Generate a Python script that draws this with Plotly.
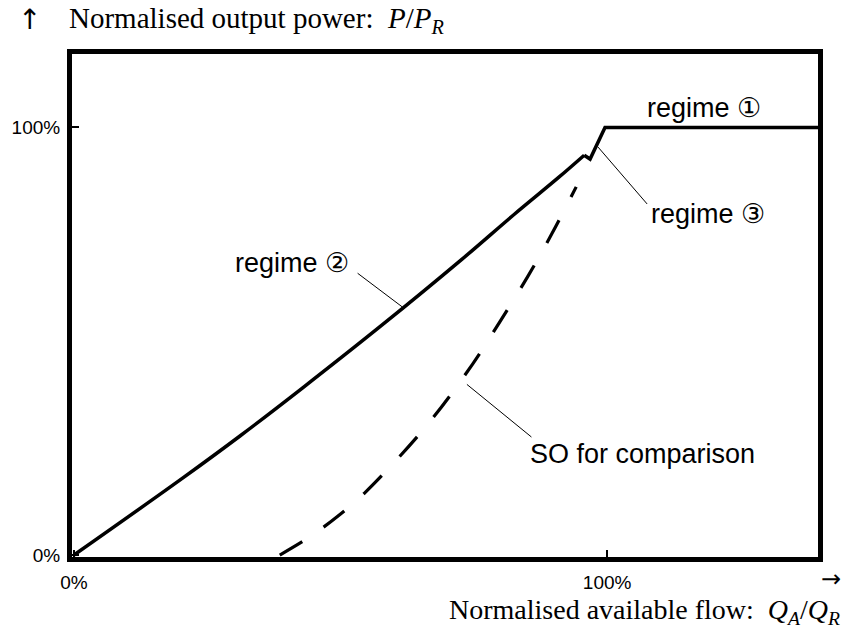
import plotly.graph_objects as go

# ---- data ----
# regime 2 (rising part of the solid curve)
flow_r2 = [0.0, 0.205, 0.312, 0.429, 0.578, 0.728, 0.826, 0.909, 0.957]
power_r2 = [0.0, 0.181, 0.279, 0.391, 0.538, 0.692, 0.797, 0.883, 0.935]
# regime 3 (small notch) and regime 1 (rated power plateau)
flow_r31 = [0.957, 0.968, 0.996, 1.40]
power_r31 = [0.935, 0.926, 1.0, 1.0]

# SO for comparison (dashed)
flow_so = [0.386, 0.444, 0.50, 0.545, 0.659, 0.748, 0.799, 0.851, 0.897, 0.942]
power_so = [0.0, 0.044, 0.096, 0.145, 0.299, 0.447, 0.546, 0.651, 0.753, 0.861]

tick_vals = [0, 1]
x_tick_text = ["0%", "100%"]
y_tick_text = ["0%", "100%"]

labels = ["regime ①", "regime ②", "regime ③", "SO for comparison"]
label_x = [1.181, 0.409, 1.190, 1.067]
label_y = [1.046, 0.682, 0.798, 0.237]

# leader lines: (x0, y0, x1, y1) for regime ②, regime ③, SO
leaders = [
    (0.532, 0.659, 0.616, 0.580),
    (0.983, 0.954, 1.075, 0.821),
    (0.737, 0.399, 0.858, 0.276),
]

y_title = "Normalised output power:&nbsp;&nbsp;<i>P</i>/<i>P</i><sub><i>R</i></sub>"
x_title = "Normalised available flow:&nbsp;&nbsp;<i>Q</i><sub><i>A</i></sub>/<i>Q</i><sub><i>R</i></sub>"

SANS = "Liberation Sans, Arial, DejaVu Sans"
SERIF = "Liberation Serif, Times New Roman, serif"

fig = go.Figure()
fig.add_trace(go.Scatter(x=flow_r2, y=power_r2, mode="lines",
                         line=dict(color="black", width=3.5, shape="spline", smoothing=1.0),
                         showlegend=False))
fig.add_trace(go.Scatter(x=flow_r31, y=power_r31, mode="lines",
                         line=dict(color="black", width=3.5),
                         showlegend=False))
fig.add_trace(go.Scatter(x=flow_so, y=power_so, mode="lines",
                         line=dict(color="black", width=3.2, dash="26px,26px",
                                   shape="spline", smoothing=1.0),
                         showlegend=False))

for t, x, y in zip(labels, label_x, label_y):
    fig.add_annotation(x=x, y=y, xref="x", yref="y", text=t, showarrow=False,
                       font=dict(family=SANS, size=27, color="black"))

for (x0, y0, x1, y1) in leaders:
    fig.add_shape(type="line", x0=x0, y0=y0, x1=x1, y1=y1, xref="x", yref="y",
                  line=dict(color="black", width=1))

# axis titles and arrows
fig.add_annotation(x=-0.0576, y=1.068, xref="paper", yref="paper", text="↑", showarrow=False,
                   xanchor="center", yanchor="middle",
                   font=dict(family="DejaVu Sans", size=28, color="black"))
fig.add_annotation(x=-0.0067, y=1.0676, xref="paper", yref="paper", text=y_title, showarrow=False,
                   xanchor="left", yanchor="middle", font=dict(family=SERIF, size=29, color="black"))
fig.add_annotation(x=1.032, y=-0.109, xref="paper", yref="paper", text=x_title, showarrow=False,
                   xanchor="right", yanchor="middle", font=dict(family=SERIF, size=28, color="black"))
fig.add_annotation(x=1.018, y=-0.044, xref="paper", yref="paper", text="→", showarrow=False,
                   xanchor="center", yanchor="middle",
                   font=dict(family="DejaVu Sans", size=24, color="black"))

fig.update_xaxes(range=[-0.0037, 1.3955], tickvals=tick_vals, ticktext=x_tick_text,
                 showgrid=False, zeroline=False, showline=True, linecolor="black", linewidth=5,
                 mirror=True, ticks="inside", ticklen=7, tickwidth=1.5, tickcolor="black",
                 ticklabelstandoff=4, automargin=False,
                 tickfont=dict(family=SANS, size=19, color="black"))
fig.update_yaxes(range=[-0.0046, 1.1717], tickvals=tick_vals, ticktext=y_tick_text,
                 showgrid=False, zeroline=False, showline=True, linecolor="black", linewidth=5,
                 mirror=True, ticks="inside", ticklen=7, tickwidth=1.5, tickcolor="black",
                 ticklabelstandoff=3, automargin=False,
                 tickfont=dict(family=SANS, size=19, color="black"))

fig.update_layout(width=844, height=634, margin=dict(l=72, r=26, t=54, b=77),
                  paper_bgcolor="white", plot_bgcolor="white", showlegend=False)

# remove the default 8px page margin so the figure fills the 844x634 window exactly
fig.write_html("out.html", config={"displayModeBar": False},
               post_script="document.body.style.margin='0';document.body.style.overflow='hidden';")
